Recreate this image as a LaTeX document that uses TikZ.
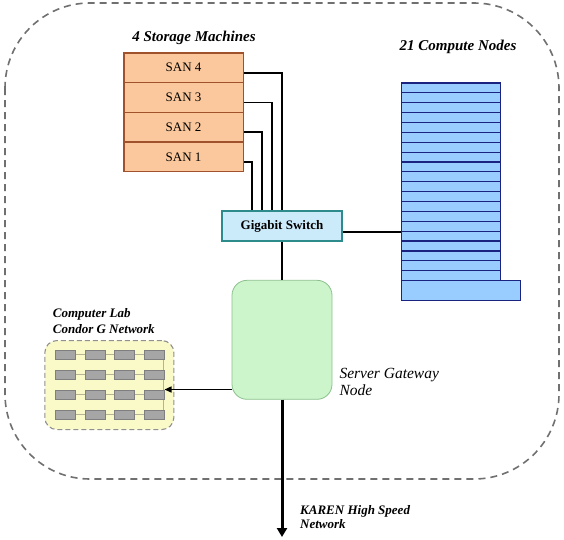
\documentclass[tikz,border=0pt]{standalone}
\usepackage{fontspec}
\setmainfont{Liberation Serif}
\usetikzlibrary{arrows.meta}
\definecolor{outerdash}{HTML}{707070}
\definecolor{sanfill}{HTML}{FAC89C}
\definecolor{sanline}{HTML}{A0522D}
\definecolor{swfill}{HTML}{CCEBFA}
\definecolor{swline}{HTML}{2E8B8B}
\definecolor{gwfill}{HTML}{CCF5CC}
\definecolor{gwline}{HTML}{8CC08C}
\definecolor{cnfill}{HTML}{99CCFF}
\definecolor{cnline}{HTML}{1A2380}
\definecolor{labfill}{HTML}{FAFAC8}
\definecolor{labline}{HTML}{909090}
\definecolor{pcfill}{HTML}{A6A6A6}
\definecolor{pcline}{HTML}{7F7F7F}
\definecolor{gridline}{HTML}{B4B494}
\tikzset{
  sanbox/.style={rectangle, draw=sanline, fill=sanfill, line width=1.2pt, anchor=north west,
    minimum width=119.4pt, minimum height=29.7pt, inner sep=0pt, font=\fontsize{13}{15}\selectfont},
  cnbox/.style={rectangle, draw=cnline, fill=cnfill, line width=1.2pt, anchor=north west,
    minimum width=99pt, minimum height=9.885pt, inner sep=0pt},
  pcbox/.style={rectangle, draw=pcline, fill=pcfill, line width=0.6pt, anchor=north west,
    minimum width=20pt, minimum height=9pt, inner sep=0pt},
  title/.style={font=\fontsize{15}{17}\selectfont\bfseries\itshape, inner sep=0pt},
  wire/.style={draw=black, line width=1.8pt},
}
\begin{document}
\begin{tikzpicture}[x=1pt, y=-1pt]
\useasboundingbox (0,0) rectangle (564,539);
% outer dashed frame
\draw[outerdash, line width=1.6pt, dash pattern=on 7pt off 5pt, rounded corners=85pt]
  (5,3) rectangle (559,479);

% titles
\node[title, anchor=base] (stt) at (194,41) {4 Storage Machines};
\node[title, anchor=base] (cnt) at (458,50.7) {21 Compute Nodes};

% SAN stack
\node[sanbox] (san4) at (123.3,52.3) {SAN 4};
\node[sanbox] (san3) at (123.3,82.0) {SAN 3};
\node[sanbox] (san2) at (123.3,111.7) {SAN 2};
\node[sanbox] (san1) at (123.3,141.4) {SAN 1};

% Gigabit switch
\node[rectangle, draw=swline, fill=swfill, line width=2.2pt, minimum width=120pt,
  minimum height=30pt, inner sep=0pt, font=\fontsize{13}{15}\selectfont\bfseries]
  (sw) at (282,226) {Gigabit Switch};

% Server gateway
\node[rectangle, rounded corners=15pt, draw=gwline, fill=gwfill, line width=0.8pt,
  minimum width=100pt, minimum height=119pt, inner sep=0pt] (gw) at (282,339.8) {};
\node[anchor=north west, inner sep=0pt, align=left, font=\fontsize{15.5}{17}\selectfont\itshape]
  (gwt) at (339.3,368.5) {Server Gateway\\Node};

% compute nodes
\foreach \i in {1,...,20} {
  \node[cnbox] (c\i) at (401,{82.3+(\i-1)*9.885}) {};
}
\node[cnbox, minimum width=119pt, minimum height=20pt] (c21) at (401,280) {};

% computer lab
\node[anchor=north west, inner sep=0pt, align=left, font=\fontsize{13}{16.6}\selectfont\bfseries\itshape]
  (labt) at (52.7,307.8) {Computer Lab\\Condor G Network};
\node[rectangle, rounded corners=12pt, draw=labline, fill=labfill, line width=1.1pt,
  dash pattern=on 5pt off 3pt, minimum width=129pt, minimum height=89pt, inner sep=0pt,
  anchor=north west] (lab) at (44.3,340) {};
\foreach \r/\y in {1/350,2/370,3/390,4/410} {
  \foreach \c/\x in {1/55,2/84.5,3/114,4/143.5} {
    \coordinate (p-\r-\c) at (\x,\y);
  }
}
% grid wires behind pcs
\foreach \r/\y in {1/354.5,2/374.5,3/394.5,4/414.5} {
  \draw[gridline, line width=0.9pt] (55,\y) -- (163.5,\y);
}
\draw[gridline, line width=0.9pt] (163.5,354.5) -- (163.5,414.5);
\foreach \r in {1,...,4} {
  \foreach \c in {1,...,4} {
    \node[pcbox] (b-\r-\c) at (p-\r-\c) {};
  }
}
\coordinate (labin) at (164.5,389.5);
\coordinate (karen) at (282,537);

% connectors
\draw[wire] ([yshift=-5pt]san4.east) -| (sw.north);
\draw[wire] ([yshift=-5pt]san3.east) -| ([xshift=-10pt]sw.north);
\draw[wire] ([yshift=-5pt]san2.east) -| ([xshift=-20pt]sw.north);
\draw[wire] ([yshift=-5pt]san1.east) -| ([xshift=-30pt]sw.north);
\draw[wire] (sw.south) -- (gw.north);
\draw[wire] (sw.east |- c15.south west) -- (c15.south west);
\draw[black, line width=1.4pt, -{Triangle[length=7pt,width=6pt]}] (gw.west |- labin) -- (labin);
\draw[black, line width=3pt, -{Triangle[length=9pt,width=10pt]}] (gw.south) -- (karen);

\node[anchor=north west, inner sep=0pt, align=left, font=\fontsize{13}{14.5}\selectfont\bfseries\itshape]
  (kt) at (300,505) {KAREN High Speed\\Network};
\end{tikzpicture}
\end{document}
